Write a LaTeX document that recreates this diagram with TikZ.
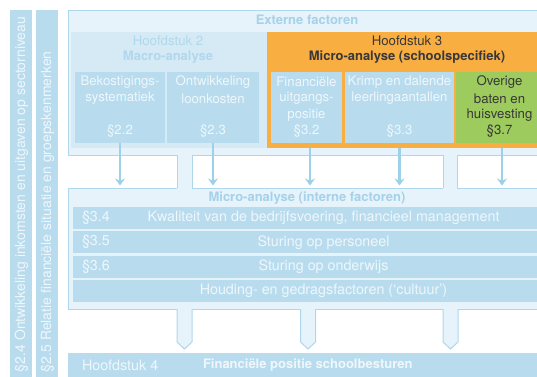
\documentclass[tikz,border=0pt]{standalone}
\usepackage{fontspec}
\setmainfont{TeX Gyre Heros}
\usetikzlibrary{arrows.meta}
\definecolor{lb}{HTML}{B8DCEE}
\definecolor{pale}{HTML}{E7F3FA}
\definecolor{mid}{HTML}{D5EAF5}
\definecolor{edge}{HTML}{AED7EC}
\definecolor{ttl}{HTML}{A5D2EA}
\definecolor{hdr}{HTML}{B0D8EC}
\definecolor{wt}{HTML}{EEF7FC}
\definecolor{arr}{HTML}{9DD0E9}
\definecolor{org}{HTML}{F9AE42}
\definecolor{grn}{HTML}{9DCB5D}
\definecolor{dk}{HTML}{383838}
\begin{document}
\begin{tikzpicture}[x=1pt,y=-1pt,
  every node/.style={inner sep=0pt, outer sep=0pt},
  reg/.style={font=\fontsize{14.3}{16}\selectfont},
  sm/.style={font=\fontsize{13.2}{16}\selectfont},
  bld/.style={font=\fontsize{13}{16}\selectfont\bfseries},
  panel/.style={draw=edge, fill=pale, line width=1pt, anchor=north west},
  flat/.style={anchor=north west},
  lbox/.style={fill=lb, anchor=north west},
  wtxt/.style={reg, text=wt},
  btxt/.style={sm, text=wt},
  gtxt/.style={sm, text=dk},
  flowarrow/.style={draw=arr, line width=2.5pt, -{Stealth[length=7pt,width=10pt]}, shorten >=2.5pt},
  tube/.style={fill=pale},
  tubeedge/.style={draw=edge, line width=1pt},
]
\useasboundingbox (0,0) rectangle (537,376);

% left vertical bars
\node[lbox, minimum width=22pt, minimum height=380pt] (bar1) at (10,10) {};
\node[lbox, minimum width=22pt, minimum height=380pt] (bar2) at (36,10) {};
\node[wtxt, rotate=90, anchor=west, font=\fontsize{14}{16}\selectfont] (bar1t) at (21.5,372) {§2.4 Ontwikkeling inkomsten en uitgaven op sectorniveau};
\node[wtxt, rotate=90, anchor=west, font=\fontsize{14}{16}\selectfont] (bar2t) at (47.5,372) {§2.5 Relatie financiële situatie en groepskenmerken};

% external factors panel
\node[panel, minimum width=478pt, minimum height=145pt] (ext) at (68,10) {};
\node[bld, text=ttl] (extt) at (307,19.5) {Externe factoren};

% chapter 2
\node[flat, fill=mid, minimum width=196pt, minimum height=116pt] (h2) at (71,32) {};
\node[sm, text=hdr] (h2a) at (168,40.5) {Hoofdstuk 2};
\node[bld, text=hdr] (h2b) at (168,57) {Macro-analyse};
\node[lbox, minimum width=90pt, minimum height=71pt] (b22) at (75,72) {};
\node[lbox, minimum width=92pt, minimum height=71pt] (b23) at (167,72) {};
\node[btxt] (b22a) at (120,82) {Bekostigings-};
\node[btxt] (b22b) at (120,98.5) {systematiek};
\node[btxt] (b22c) at (120,131) {§2.2};
\node[btxt] (b23a) at (213,82) {Ontwikkeling};
\node[btxt] (b23b) at (213,98.5) {loonkosten};
\node[btxt] (b23c) at (213,131) {§2.3};

% chapter 3
\node[flat, fill=org, minimum width=280pt, minimum height=116pt] (h3) at (267,32) {};
\node[sm, text=dk] (h3a) at (407,41) {Hoofdstuk 3};
\node[bld, text=dk] (h3b) at (407,57) {Micro-analyse (schoolspecifiek)};
\node[lbox, minimum width=71pt, minimum height=71pt] (b32) at (271,72) {};
\node[lbox, minimum width=109pt, minimum height=71pt] (b33) at (345,72) {};
\node[flat, fill=grn, minimum width=88pt, minimum height=71pt] (b37) at (456,72) {};
\node[btxt] (b32a) at (306.5,82) {Financiële};
\node[btxt] (b32b) at (306.5,98.5) {uitgangs-};
\node[btxt] (b32c) at (306.5,115) {positie};
\node[btxt] (b32d) at (306.5,131) {§3.2};
\node[btxt] (b33a) at (399.5,82) {Krimp en dalende};
\node[btxt] (b33b) at (399.5,98.5) {leerlingaantallen};
\node[btxt] (b33c) at (399.5,131) {§3.3};
\node[gtxt] (b37a) at (499.5,82) {Overige};
\node[gtxt] (b37b) at (499.5,98.5) {baten en};
\node[gtxt] (b37c) at (499.5,115) {huisvesting};
\node[gtxt] (b37d) at (499.5,131) {§3.7};

% micro analysis (internal)
\node[panel, minimum width=478pt, minimum height=121pt] (micro) at (68,188) {};
\node[bld, text=ttl] (microt) at (307,198) {Micro-analyse (interne factoren)};
\node[lbox, minimum width=468pt, minimum height=21.5pt] (r1) at (73,207) {};
\node[lbox, minimum width=468pt, minimum height=22pt] (r2) at (73,231.3) {};
\node[lbox, minimum width=468pt, minimum height=22pt] (r3) at (73,256) {};
\node[lbox, minimum width=468pt, minimum height=22pt] (r4) at (73,280) {};
\node[wtxt, anchor=west] (r1a) at (82,217.7) {§3.4};
\node[wtxt] (r1b) at (323.5,217.7) {Kwaliteit van de bedrijfsvoering, financieel management};
\node[wtxt, anchor=west] (r2a) at (82,242.3) {§3.5};
\node[wtxt] (r2b) at (323.5,242.3) {Sturing op personeel};
\node[wtxt, anchor=west] (r3a) at (82,267) {§3.6};
\node[wtxt] (r3b) at (323.5,267) {Sturing op onderwijs};
\node[wtxt] (r4b) at (323.5,291) {Houding- en gedragsfactoren (‘cultuur’)};

% chapter 4
\node[lbox, minimum width=478pt, minimum height=30pt] (h4) at (68,353) {};
\node[wtxt, anchor=west] (h4a) at (82,365.5) {Hoofdstuk 4};
\node[bld, text=wt, anchor=west] (h4b) at (203,365.5) {Financiële positie schoolbesturen};

% tubes between external and micro panel
\coordinate (t1l) at (177,0); \coordinate (t1r) at (192,0);
\coordinate (t2l) at (443,0); \coordinate (t2r) at (457,0);
\fill[tube] ([yshift=0.6pt]ext.south -| t1l) rectangle ([yshift=-0.6pt]micro.north -| t1r);
\fill[tube] ([yshift=0.6pt]ext.south -| t2l) rectangle ([yshift=-0.6pt]micro.north -| t2r);
\draw[tubeedge] (ext.south -| t1l) -- (micro.north -| t1l) (ext.south -| t1r) -- (micro.north -| t1r);
\draw[tubeedge] (ext.south -| t2l) -- (micro.north -| t2l) (ext.south -| t2r) -- (micro.north -| t2r);

% flow arrows
\draw[flowarrow] (b22.south) -- (b22.south |- micro.north);
\draw[flowarrow] (b23.south) -- (b23.south |- micro.north);
\draw[flowarrow] ([xshift=3.5pt]b32.south |- h3.south) -- ([xshift=3.5pt]b32.south |- micro.north);
\draw[flowarrow] (b33.south |- h3.south) -- (b33.south |- micro.north);
\draw[flowarrow] ([xshift=2pt]b37.south |- h3.south) -- ([xshift=2pt]b37.south |- micro.north);

% block arrows down to chapter 4
\coordinate (a1) at (177,0); \coordinate (a2) at (300.5,0); \coordinate (a3) at (443,0);
\foreach \c in {a1,a2,a3}{
  \fill[tube] ([yshift=0.6pt]micro.south -| \c) -- ++(0,33.6) -- ++(7.5,7) -- ++(7.5,-7) -- ++(0,-33.6) -- cycle;
  \draw[tubeedge, line join=miter] (micro.south -| \c) -- ++(0,33) -- ++(7.5,7) -- ++(7.5,-7) -- ++(0,-33);
}
\end{tikzpicture}
\end{document}
